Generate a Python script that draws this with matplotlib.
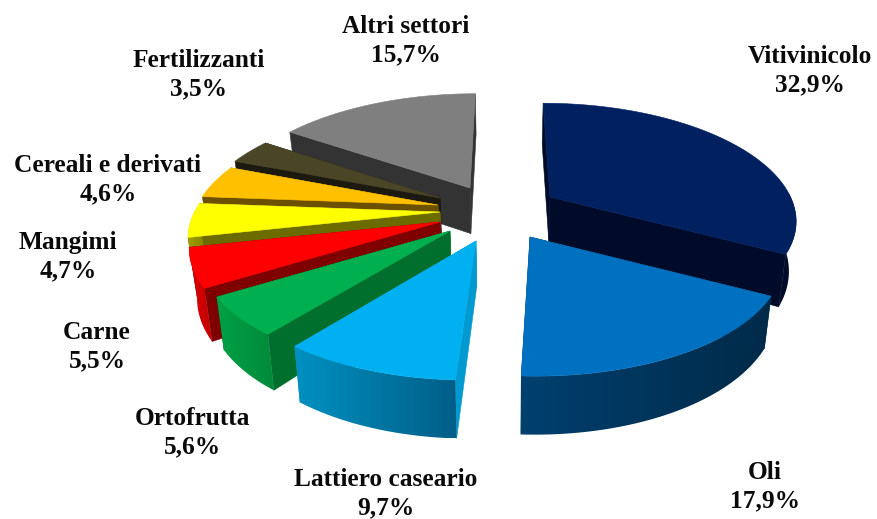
import numpy as np
import matplotlib
matplotlib.use("Agg")
import matplotlib.pyplot as plt
from matplotlib.colors import to_rgb
from matplotlib.patches import Polygon

# data
categories = ["Vitivinicolo", "Oli", "Lattiero caseario", "Ortofrutta", "Carne",
              "Mangimi", "Cereali e derivati", "Fertilizzanti", "Altri settori"]
values = [32.9, 17.9, 9.7, 5.6, 5.5, 4.7, 4.6, 3.5, 15.7]
value_labels = ["32,9%", "17,9%", "9,7%", "5,6%", "5,5%", "4,7%", "4,6%", "3,5%", "15,7%"]

# styling
top_colors = ["#002060", "#0070C0", "#00B0F0", "#00B050", "#FF0000",
              "#FFFF00", "#FFC000", "#4A4526", "#7F7F7F"]
cut_colors = ["#000B2A", "#003050", "#009AD0", "#006F2E", "#7F0000",
              "#6B6B00", "#6B5000", "#1C1A0E", "#333333"]
side_a = ["#000B2A", "#00406F", "#0090C0", "#00A045", "#E00000",
          "#A0A000", "#A07800", "#2A2716", "#404040"]
side_b = ["#000B2A", "#002A48", "#005F88", "#008A3A", "#C00000",
          "#808000", "#806000", "#2A2716", "#404040"]
apex_px = [(550, 197), (530, 237), (476, 241), (450, 231), (440, 222),
           (440, 212), (438, 205), (440, 198), (470, 188)]
radius_scale = [0.97, 1, 1, 0.98, 0.985, 0.99, 0.97, 0.96, 0.975]
draw_order = [8, 7, 6, 5, 4, 3, 0, 1, 2]
label_px = [(810, 71), (765, 487), (386, 494), (192, 433), (97, 347),
            (68, 257), (108, 180), (199, 75), (406, 41)]

R, K, A, H, VX, LEAN = 248.0, 0.46, 0.18, 48.0, 505.0, 0.025


def project(theta, apex, scale=1.0, z=0.0):
    u, v = np.sin(theta), -np.cos(theta)
    s = 1.0 / (1.0 - A * v)
    x = apex[0] + R * scale * u * s + (apex[0] - VX) * (s - 1.0)
    y = apex[1] + R * scale * K * v * s + z * H * s
    return x + (VX - x) * LEAN * z, y


fig = plt.figure(figsize=(8.78, 5.19), dpi=100)
ax = fig.add_axes([0, 0, 1, 1])
ax.set_xlim(0, 878)
ax.set_ylim(519, 0)
ax.axis("off")

edges = np.concatenate([[0], np.cumsum(values)]) / np.sum(values) * 2 * np.pi
z = 1.0
for i in draw_order:
    a0, a1 = edges[i], edges[i + 1]
    apex = apex_px[i]
    sc = radius_scale[i]
    th = np.linspace(a0, a1, 80)
    tx, ty = project(th, apex, sc)
    apex_low = (apex[0] + (VX - apex[0]) * LEAN, apex[1] + H * 0.95)
    # cut walls
    for a in (a0, a1):
        x1, y1 = project(a, apex, sc)
        x2, y2 = project(a, apex, sc, z=1.0)
        z += 1
        ax.fill([apex[0], x1, x2, apex_low[0]], [apex[1], y1, y2, apex_low[1]],
                fc=cut_colors[i], ec=cut_colors[i], lw=0.4, zorder=z)
    # outer wall, front-facing part, left-to-right gradient
    front = th[np.cos(th) < 0.05]
    if len(front) > 1:
        fx, fy = project(front, apex, sc)
        gx, gy = project(front, apex, sc, z=1.0)
        pts = np.column_stack([np.r_[fx, gx[::-1]], np.r_[fy, gy[::-1]]])
        lo, hi = pts[:, 0].min(), pts[:, 0].max()
        c0, c1 = np.array(to_rgb(side_a[i])), np.array(to_rgb(side_b[i]))
        grad = np.linspace(0, 1, 64)[None, :, None] * (c1 - c0) + c0
        z += 1
        im = ax.imshow(grad, extent=(lo, hi, pts[:, 1].max(), pts[:, 1].min()),
                       aspect="auto", zorder=z, interpolation="bilinear")
        im.set_clip_path(Polygon(pts, closed=True, transform=ax.transData))
    z += 1
    ax.fill(np.r_[apex[0], tx], np.r_[apex[1], ty], fc=top_colors[i], ec=top_colors[i],
            lw=0.4, zorder=z)

ax.set_xlim(0, 878)
ax.set_ylim(519, 0)

for name, lab, (x, y) in zip(categories, value_labels, label_px):
    ax.text(x, y, f"{name}\n{lab}", ha="center", va="center", fontsize=18.3,
            family="Liberation Serif", fontweight="bold", color="#0a0a0a",
            linespacing=1.3, zorder=z + 1)

fig.savefig("out.png", dpi=100)
